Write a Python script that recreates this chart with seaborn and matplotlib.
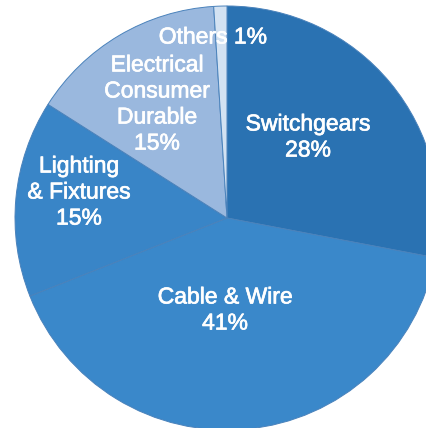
import matplotlib.pyplot as plt
import matplotlib.patheffects as pe
import seaborn as sns

sns.set_theme(style="white")
plt.rcParams['font.family'] = ['Liberation Sans', 'DejaVu Sans']

# Market share by segment
labels = ['Switchgears', 'Cable & Wire', 'Lighting\n& Fixtures',
          'Electrical\nConsumer\nDurable', 'Others']
shares = [28, 41, 15, 15, 1]
colors = ['#2a72b2', '#3a88ca', '#3985c7', '#9ab8de', '#d3e2f2']

fig = plt.figure(figsize=(4.27, 4.28), dpi=100)
ax = fig.add_axes([0, 0, 1, 1])

wedges, _ = ax.pie(shares, colors=colors, startangle=90, counterclock=False,
                   radius=1.0,
                   wedgeprops=dict(edgecolor='#4a82bb', linewidth=0.7))

# pie radius ~212 px, centre at (227, 218) px from top-left
r_px = 212
ax.set_xlim(-227 / r_px, (427 - 227) / r_px)
ax.set_ylim(-(428 - 218) / r_px, 218 / r_px)
ax.set_aspect('equal')
ax.axis('off')

def px(x, y):
    return (x - 227) / r_px, (218 - y) / r_px

# slightly heavier white text, like the original's medium weight
stroke = [pe.withStroke(linewidth=0.5, foreground='white')]

label_pos = [(308, 137), (225, 310), (79, 192), (157, 104), (213, 37)]
for lab, val, (x, y) in zip(labels, shares, label_pos):
    tx, ty = px(x, y)
    if lab == 'Others':
        txt = f'{lab} {val}%'
    else:
        txt = f'{lab}\n{val}%'
    ax.text(tx, ty, txt, ha='center', va='center', color='white',
            fontsize=16.5, linespacing=1.17, path_effects=stroke)

fig.savefig('out.png', dpi=100)
